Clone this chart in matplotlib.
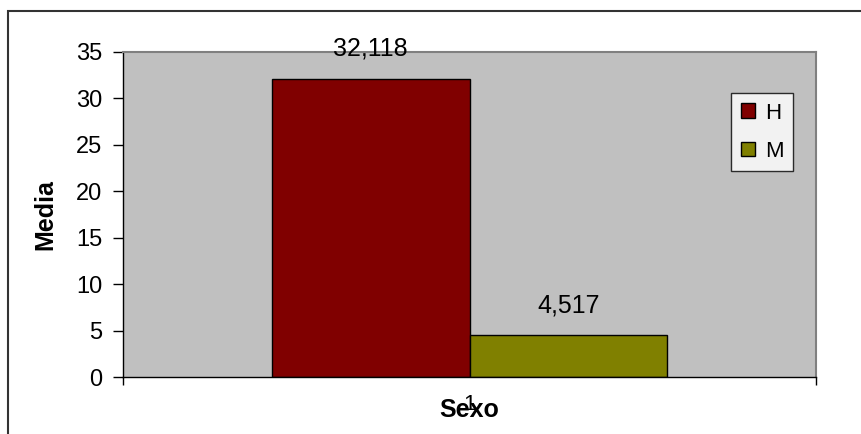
import matplotlib.pyplot as plt
from matplotlib.patches import Rectangle

plt.rcParams['font.family'] = ['Liberation Sans', 'DejaVu Sans']

# mean value per sex
groups = ["1"]
series = ["H", "M"]
h_values = [32.118]
m_values = [4.517]
value_labels = ["32,118", "4,517"]
colors = ["#800000", "#808000"]

fig = plt.figure(figsize=(8.61, 4.34), dpi=100)
ax = fig.add_axes([0.1429, 0.1313, 0.8048, 0.7489])
ax.set_facecolor("#c0c0c0")

bar_w = 0.2857
x = 1.0
bars_h = ax.bar(x - bar_w / 2, h_values[0], width=bar_w, color=colors[0],
                edgecolor="black", linewidth=1, label=series[0])
bars_m = ax.bar(x + bar_w / 2, m_values[0], width=bar_w, color=colors[1],
                edgecolor="black", linewidth=1, label=series[1])

for bars, txt in zip([bars_h, bars_m], value_labels):
    b = bars[0]
    ax.annotate(txt, (b.get_x() + b.get_width() / 2, b.get_height()),
                xytext=(0, 21.5), textcoords="offset points",
                ha="center", va="center", fontsize=18, annotation_clip=False)

ax.set_xlim(0.5, 1.5)
ax.set_ylim(0, 35)
ax.set_yticks(range(0, 36, 5))
ax.set_xticks([1])
ax.set_xticklabels(groups)
ax.set_xticks([0.5, 1.5], minor=True)
ax.tick_params(axis="x", which="major", length=0, labelsize=16, pad=12)
ax.tick_params(axis="x", which="minor", length=6, width=1, direction="out")
ax.tick_params(axis="y", length=7, width=1, direction="out", labelsize=17, pad=8)

for side in ["top", "right"]:
    ax.spines[side].set_color("#808080")
    ax.spines[side].set_linewidth(1.5)
for side in ["left", "bottom"]:
    ax.spines[side].set_color("black")
    ax.spines[side].set_linewidth(1)

ax.set_ylabel("Media", fontsize=18, fontweight="bold", va="center")
ax.yaxis.set_label_coords(-0.1126, 0.5)
ax.set_xlabel("Sexo", fontsize=18, fontweight="bold", va="center")
ax.xaxis.set_label_coords(0.5, -0.1015)

leg = ax.legend(loc="upper left", bbox_to_anchor=(731 / 861, 1 - 93 / 434),
                bbox_transform=fig.transFigure, fontsize=16, frameon=True,
                fancybox=False, handlelength=0.64, handleheight=0.64,
                handletextpad=0.45, borderpad=0.43, labelspacing=0.77,
                borderaxespad=0)
leg.get_frame().set_edgecolor("black")
leg.get_frame().set_linewidth(1)
leg.get_frame().set_facecolor("white")

# chart border (only top and left edges fall inside the image)
fig.add_artist(Rectangle((8 / 861, -0.1), 1.2, 1.1 - 11 / 434, transform=fig.transFigure,
                         fill=False, edgecolor="#333333", linewidth=1.5))

fig.savefig("out.png", dpi=100)
